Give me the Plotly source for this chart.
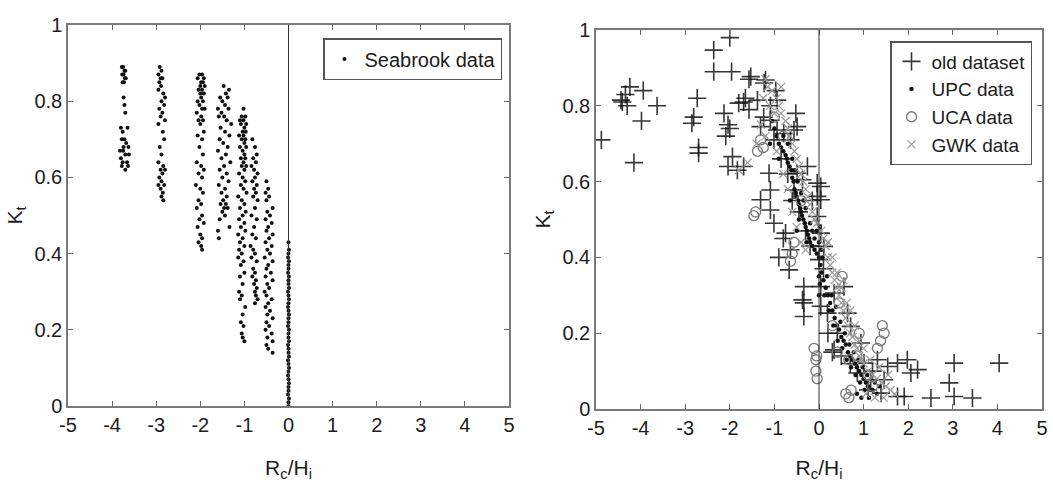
import plotly.graph_objects as go

# ---------------- data ----------------
x_ticks = [-5, -4, -3, -2, -1, 0, 1, 2, 3, 4, 5]
x_tick_labels = ["-5", "-4", "-3", "-2", "-1", "0", "1", "2", "3", "4", "5"]
y_ticks = [0, 0.2, 0.4, 0.6, 0.8, 1]
y_tick_labels = ["0", "0.2", "0.4", "0.6", "0.8", "1"]

# Left panel: Seabrook data, grouped by the column of points
seabrook_col_a = [(-3.78,0.89),(-3.75,0.89),(-3.72,0.88),(-3.70,0.88),(-3.77,0.87),(-3.74,0.87),
    (-3.71,0.86),(-3.69,0.86),(-3.76,0.85),(-3.73,0.85),(-3.74,0.81),(-3.72,0.79),(-3.70,0.77),
    (-3.80,0.73),(-3.76,0.72),(-3.65,0.73),(-3.78,0.70),(-3.72,0.70),(-3.68,0.69),(-3.63,0.68),
    (-3.82,0.67),(-3.75,0.67),(-3.70,0.66),(-3.62,0.66),(-3.80,0.65),(-3.76,0.64),(-3.66,0.64),
    (-3.78,0.63),(-3.70,0.62),(-3.64,0.63),(-3.74,0.68)]
seabrook_col_b = [(-2.92,0.89),(-2.88,0.88),(-2.95,0.87),(-2.90,0.86),(-2.86,0.86),(-2.93,0.85),
    (-2.89,0.84),(-2.95,0.83),(-2.84,0.82),(-2.80,0.81),(-2.88,0.80),(-2.82,0.79),(-2.93,0.78),
    (-2.86,0.77),(-2.90,0.76),(-2.80,0.75),(-2.95,0.74),(-2.85,0.72),(-2.82,0.70),(-2.92,0.68),
    (-2.88,0.66),(-2.95,0.64),(-2.84,0.63),(-2.90,0.62),(-2.86,0.61),(-2.80,0.62),(-2.93,0.60),
    (-2.88,0.59),(-2.82,0.58),(-2.95,0.58),(-2.90,0.57),(-2.85,0.56),(-2.88,0.55),(-2.84,0.54)]
seabrook_col_c = [(-2.02,0.87),(-1.96,0.87),(-1.92,0.86),(-2.06,0.86),(-1.98,0.85),(-1.94,0.85),
    (-2.00,0.84),(-1.90,0.84),(-2.04,0.83),(-1.96,0.83),(-1.92,0.82),(-2.00,0.82),(-1.98,0.81),
    (-2.06,0.80),(-1.94,0.80),(-2.02,0.79),(-1.96,0.78),(-1.90,0.78),(-2.08,0.77),(-1.98,0.76),
    (-2.04,0.75),(-1.94,0.75),(-2.00,0.74),(-1.92,0.72),(-2.06,0.71),(-1.96,0.70),(-2.02,0.68),
    (-1.94,0.66),(-2.08,0.64),(-1.98,0.63),(-1.92,0.62),(-2.04,0.61),(-1.96,0.60),(-2.10,0.58),
    (-2.00,0.57),(-1.94,0.56),(-2.04,0.54),(-1.98,0.53),(-2.08,0.52),(-1.96,0.50),(-2.02,0.49),
    (-1.92,0.48),(-2.06,0.47),(-2.00,0.45),(-1.96,0.44),(-2.04,0.43),(-1.98,0.42),(-1.96,0.41)]
seabrook_col_d = [(-1.47,0.84),(-1.35,0.83),(-1.42,0.82),(-1.55,0.81),(-1.38,0.81),(-1.50,0.80),
    (-1.44,0.79),(-1.60,0.78),(-1.36,0.78),(-1.52,0.77),(-1.46,0.76),(-1.58,0.76),(-1.40,0.75),
    (-1.30,0.74),(-1.54,0.73),(-1.44,0.72),(-1.34,0.71),(-1.56,0.70),(-1.48,0.69),(-1.38,0.68),
    (-1.60,0.67),(-1.42,0.66),(-1.52,0.65),(-1.32,0.64),(-1.46,0.63),(-1.56,0.62),(-1.40,0.61),
    (-1.50,0.60),(-1.36,0.59),(-1.58,0.58),(-1.44,0.57),(-1.52,0.56),(-1.40,0.55),(-1.48,0.54),
    (-1.42,0.53),(-1.54,0.53),(-1.46,0.52),(-1.38,0.52),(-1.50,0.51),(-1.44,0.50),(-1.56,0.49),
    (-1.60,0.46),(-1.58,0.44),(-1.34,0.47)]
seabrook_col_e = [(-1.02,0.78),(-1.06,0.76),(-0.98,0.76),(-1.10,0.75),(-1.02,0.75),(-0.96,0.74),
    (-1.08,0.74),(-1.00,0.73),(-1.04,0.72),(-0.97,0.72),(-1.12,0.71),(-1.02,0.71),(-0.98,0.70),
    (-1.06,0.70),(-1.00,0.69),(-1.10,0.68),(-0.96,0.68),(-1.04,0.67),(-1.00,0.66),(-1.08,0.65),
    (-0.98,0.65),(-1.02,0.64),(-1.06,0.63),(-0.96,0.63),(-1.00,0.62),(-1.12,0.61),(-1.04,0.60),
    (-0.98,0.59),(-1.08,0.58),(-1.02,0.57),(-0.95,0.56),(-1.14,0.55),(-1.06,0.54),(-1.00,0.53),
    (-1.10,0.52),(-0.97,0.51),(-1.04,0.50),(-1.12,0.49),(-1.00,0.48),(-1.08,0.47),(-0.98,0.46),
    (-1.14,0.45),(-1.04,0.44),(-1.10,0.43),(-1.00,0.42),(-1.12,0.41),(-1.06,0.40),(-1.14,0.39),
    (-1.02,0.38),(-1.08,0.37),(-1.00,0.35),(-1.10,0.34),(-1.04,0.32),(-1.12,0.30),(-1.06,0.29),
    (-1.10,0.28),(-0.98,0.26),(-1.04,0.24),(-1.08,0.22),(-1.02,0.21),(-1.06,0.19),(-1.04,0.18),
    (-1.00,0.17)]
seabrook_col_f = [(-0.82,0.70),(-0.76,0.68),(-0.72,0.66),(-0.80,0.65),(-0.74,0.64),(-0.84,0.63),
    (-0.78,0.62),(-0.70,0.61),(-0.76,0.60),(-0.82,0.59),(-0.72,0.58),(-0.78,0.57),(-0.74,0.56),
    (-0.80,0.55),(-0.70,0.54),(-0.76,0.52),(-0.84,0.50),(-0.72,0.49),(-0.78,0.47),(-0.82,0.45),
    (-0.74,0.44),(-0.86,0.42),(-0.80,0.41),(-0.76,0.40),(-0.84,0.39),(-0.72,0.38),(-0.80,0.36),
    (-0.76,0.35),(-0.82,0.34),(-0.74,0.33),(-0.78,0.32),(-0.72,0.31),(-0.76,0.30),(-0.74,0.29),
    (-0.70,0.28),(-0.76,0.27)]
seabrook_col_g = [(-0.50,0.59),(-0.46,0.57),(-0.52,0.56),(-0.44,0.55),(-0.50,0.54),(-0.36,0.52),
    (-0.48,0.51),(-0.42,0.50),(-0.52,0.49),(-0.38,0.48),(-0.46,0.47),(-0.50,0.46),(-0.36,0.45),
    (-0.44,0.44),(-0.52,0.43),(-0.38,0.42),(-0.48,0.41),(-0.42,0.40),(-0.54,0.39),(-0.36,0.38),
    (-0.46,0.37),(-0.50,0.36),(-0.40,0.35),(-0.52,0.34),(-0.36,0.33),(-0.48,0.32),(-0.44,0.31),
    (-0.54,0.30),(-0.50,0.29),(-0.38,0.28),(-0.46,0.27),(-0.52,0.26),(-0.42,0.25),(-0.48,0.24),
    (-0.36,0.23),(-0.50,0.22),(-0.44,0.21),(-0.52,0.20),(-0.38,0.19),(-0.48,0.18),(-0.36,0.17),
    (-0.50,0.16),(-0.46,0.15),(-0.36,0.14)]
seabrook_col_h = [(0.00,0.43),(0.01,0.41),(0.00,0.40),(-0.01,0.39),(0.01,0.38),(0.00,0.37),
    (0.00,0.36),(-0.01,0.35),(0.01,0.34),(0.00,0.33),(0.00,0.32),(0.01,0.31),(-0.01,0.30),
    (0.00,0.29),(0.01,0.28),(0.00,0.27),(-0.01,0.26),(0.00,0.25),(0.01,0.24),(0.00,0.23),
    (0.00,0.22),(-0.01,0.21),(0.01,0.20),(0.00,0.19),(0.00,0.18),(0.01,0.17),(-0.01,0.16),
    (0.00,0.15),(0.00,0.14),(0.01,0.13),(-0.01,0.12),(0.00,0.11),(0.01,0.10),(0.00,0.09),
    (-0.01,0.08),(0.00,0.07),(0.01,0.06),(0.00,0.05),(0.00,0.04),(-0.01,0.03),(0.01,0.02),
    (0.00,0.01),(0.00,0.00)]

# Right panel
old_dataset = [(-4.88,0.71),(-4.44,0.815),(-4.34,0.83),(-4.24,0.85),(-4.30,0.80),(-3.94,0.84),
    (-3.63,0.80),(-3.98,0.76),(-4.15,0.65),(-4.41,0.81),(-2.36,0.947),(-2.00,0.98),(-2.36,0.89),
    (-1.96,0.89),(-2.73,0.82),(-2.81,0.77),(-2.85,0.754),(-2.70,0.69),(-2.70,0.675),(-2.13,0.78),
    (-2.04,0.75),(-2.09,0.72),(-2.00,0.74),(-1.94,0.666),(-2.04,0.64),(-1.69,0.64),(-1.83,0.63),
    (-1.57,0.87),(-1.53,0.877),(-1.65,0.82),(-1.80,0.807),(-1.69,0.81),(-1.57,0.79),(-1.38,0.815),
    (-1.23,0.86),(-1.20,0.868),(-0.97,0.84),(-0.94,0.815),(-1.09,0.80),(-1.24,0.77),(-1.31,0.745),
    (-1.09,0.762),(-0.94,0.736),(-0.52,0.78),(-0.49,0.745),(-0.56,0.736),(-0.64,0.71),(-0.79,0.727),
    (-1.01,0.71),(-1.12,0.622),(-1.09,0.578),(-1.31,0.552),(-1.09,0.525),(-1.01,0.49),(-0.75,0.464),
    (-0.64,0.42),(-0.67,0.367),(-0.34,0.323),(-0.37,0.288),(-0.34,0.28),(-0.34,0.244),(-0.56,0.578),
    (-0.49,0.622),(-0.37,0.605),(-0.26,0.64),(-0.04,0.596),(0.04,0.587),(-0.04,0.561),(0.04,0.552),
    (-0.04,0.508),(0.04,0.464),(0.11,0.429),(0.00,0.394),(0.04,0.323),(0.04,0.271),(0.19,0.253),
    (0.34,0.306),(0.56,0.323),(0.64,0.253),(0.34,0.156),(0.41,0.20),(0.71,0.218),(0.94,0.174),
    (1.01,0.121),(1.31,0.13),(1.54,0.112),(1.76,0.121),(1.98,0.13),(2.21,0.104),(2.06,0.095),
    (1.91,0.033),(3.03,0.121),(4.04,0.121),(2.51,0.029),(3.03,0.033),(3.44,0.029),(2.92,0.069),
    (1.39,0.042),(1.76,0.033),(1.16,0.077),(0.86,0.095),(1.46,0.077),(-0.85,0.66),(-0.70,0.62),
    (-0.60,0.55),(-0.45,0.52),(-0.30,0.47),(-0.20,0.43),(0.20,0.20),(0.30,0.15),(0.50,0.14),
    (0.70,0.12),(1.20,0.10),(1.10,0.05),(-0.80,0.45),(-0.90,0.40),(-0.15,0.55),(0.10,0.37)]
upc_data = [(-1.05,0.76),(-1.00,0.74),(-0.95,0.72),(-0.90,0.70),(-0.85,0.69),(-0.80,0.68),
    (-0.75,0.67),(-0.72,0.66),(-0.70,0.65),(-0.66,0.64),(-0.62,0.63),(-0.60,0.61),(-0.57,0.60),
    (-0.55,0.58),(-0.52,0.57),(-0.50,0.56),(-0.47,0.55),(-0.45,0.54),(-0.42,0.53),(-0.40,0.52),
    (-0.38,0.51),(-0.35,0.50),(-0.32,0.49),(-0.30,0.48),(-0.27,0.47),(-0.25,0.46),(-0.22,0.45),
    (-0.20,0.44),(-0.15,0.43),(-0.10,0.42),(-0.05,0.41),(0.00,0.40),(0.03,0.38),(0.05,0.36),
    (0.10,0.34),(0.15,0.32),(0.20,0.30),(0.25,0.28),(0.30,0.26),(0.35,0.24),(0.40,0.22),
    (0.45,0.21),(0.50,0.19),(0.55,0.18),(0.60,0.17),(0.65,0.15),(0.70,0.14),(0.75,0.13),
    (0.80,0.12),(0.85,0.11),(0.90,0.10),(0.95,0.09),(1.00,0.08),(1.05,0.07),(1.10,0.06),
    (1.15,0.05),(1.20,0.05),(1.30,0.04),(-0.90,0.66),(-0.80,0.72),(-0.70,0.70),(-0.60,0.66),
    (-0.55,0.63),(-0.48,0.60),(-0.45,0.50),(-0.40,0.57),(-0.35,0.55),(-0.30,0.53),(-0.28,0.44),
    (-0.20,0.49),(-0.15,0.47),(-0.10,0.45),(-0.05,0.47),(0.00,0.44),(0.02,0.33),(0.05,0.42),
    (0.08,0.40),(0.12,0.30),(0.18,0.35),(0.22,0.26),(0.28,0.30),(0.32,0.22),(0.38,0.27),
    (0.42,0.18),(0.48,0.23),(0.52,0.16),(0.58,0.20),(0.62,0.13),(0.68,0.17),(0.72,0.11),
    (0.78,0.15),(0.82,0.09),(0.88,0.13),(0.92,0.07),(0.98,0.11),(1.02,0.05),(1.08,0.09),
    (1.12,0.03),(1.25,0.07),(1.35,0.06),(0.85,0.04),(0.95,0.03),(-1.10,0.70),(-0.65,0.55),
    (-0.50,0.47),(0.00,0.30),(0.00,0.35),(0.02,0.48)]
uca_data = [(-1.46,0.51),(-1.42,0.52),(-1.38,0.68),(-1.31,0.71),(-1.25,0.69),(-0.56,0.44),
    (-0.64,0.39),(-0.60,0.41),(-0.11,0.16),(-0.07,0.13),(-0.07,0.10),(-0.04,0.08),(-0.05,0.14),
    (0.60,0.04),(0.67,0.03),(0.72,0.05),(0.90,0.20),(1.42,0.22),(1.46,0.20),(1.31,0.16),
    (1.38,0.18),(0.41,0.15),(0.67,0.13),(0.52,0.35),(0.45,0.28),(0.85,0.14),(1.10,0.09),
    (1.20,0.06),(0.30,0.22),(-0.40,0.55),(-1.00,0.77),(-0.80,0.72)]
gwk_data = [(-1.20,0.87),(-1.15,0.85),(-1.05,0.84),(-0.95,0.82),(-0.90,0.80),(-0.85,0.78),
    (-1.10,0.80),(-1.25,0.82),(-0.75,0.76),(-0.70,0.74),(-0.65,0.72),(-0.60,0.70),(-0.55,0.68),
    (-0.50,0.66),(-0.45,0.64),(-0.40,0.62),(-0.35,0.60),(-0.30,0.58),(-0.25,0.56),(-0.20,0.54),
    (-0.15,0.52),(-0.10,0.50),(-0.05,0.49),(0.05,0.47),(0.10,0.45),(0.15,0.43),(0.20,0.40),
    (0.25,0.38),(0.30,0.36),(0.35,0.34),(0.40,0.32),(0.45,0.30),(0.50,0.28),(0.55,0.26),
    (0.60,0.24),(0.65,0.22),(0.70,0.20),(0.75,0.19),(0.80,0.17),(0.85,0.16),(0.90,0.14),
    (0.95,0.13),(1.00,0.12),(1.10,0.10),(1.20,0.09),(1.30,0.08),(1.40,0.07),(1.50,0.06),
    (1.60,0.05),(1.70,0.04),(1.45,0.03),(1.25,0.03),(1.05,0.04),(-1.30,0.75),(-1.20,0.72),
    (-1.40,0.70),(-0.95,0.68),(-0.80,0.62),(-0.70,0.58),(-0.60,0.52),(-0.50,0.48),(-0.40,0.44),
    (-0.30,0.42),(0.20,0.44),(0.30,0.40),(0.40,0.36),(0.50,0.32),(0.55,0.34),(0.62,0.28),
    (0.70,0.26),(0.80,0.22),(0.90,0.18),(1.00,0.16),(1.15,0.13),(1.35,0.11),(1.55,0.09),
    (-1.60,0.65),(-1.80,0.63),(-0.85,0.85),(-1.00,0.78)]

# ---------------- figure ----------------
def xs(pts):
    return [p[0] for p in pts]

def ys(pts):
    return [p[1] for p in pts]

seabrook = (seabrook_col_a + seabrook_col_b + seabrook_col_c + seabrook_col_d +
            seabrook_col_e + seabrook_col_f + seabrook_col_g + seabrook_col_h)

FONT = "Liberation Sans, Arial, sans-serif"
TXT = "#1c1c1c"

fig = go.Figure()
fig.add_trace(go.Scatter(x=xs(seabrook), y=ys(seabrook), mode="markers", name="Seabrook data",
    marker=dict(symbol="circle", size=4, color="#111"), xaxis="x", yaxis="y",
    legend="legend", showlegend=True))

fig.add_trace(go.Scatter(x=xs(old_dataset), y=ys(old_dataset), mode="markers", name="old dataset",
    marker=dict(symbol="cross-thin-open", size=13, color="rgba(20,20,20,0.85)",
                line=dict(width=1.6, color="rgba(20,20,20,0.85)")),
    xaxis="x2", yaxis="y2", legend="legend2", showlegend=True))
fig.add_trace(go.Scatter(x=xs(upc_data), y=ys(upc_data), mode="markers", name="UPC data",
    marker=dict(symbol="circle", size=4.5, color="#111"), xaxis="x2", yaxis="y2",
    legend="legend2", showlegend=True))
fig.add_trace(go.Scatter(x=xs(uca_data), y=ys(uca_data), mode="markers", name="UCA data",
    marker=dict(symbol="circle-open", size=10, color="#777", line=dict(width=1.3, color="#777")),
    xaxis="x2", yaxis="y2", legend="legend2", showlegend=True))
fig.add_trace(go.Scatter(x=xs(gwk_data), y=ys(gwk_data), mode="markers", name="GWK data",
    marker=dict(symbol="x-thin-open", size=8, color="#999", line=dict(width=1.2, color="#999")),
    xaxis="x2", yaxis="y2", legend="legend2", showlegend=True))

axis_common = dict(showline=True, linecolor="#7a7a7a", linewidth=1.5, mirror="ticks",
                   ticks="inside", ticklen=5, tickcolor="#666", tickwidth=1,
                   showgrid=False, zeroline=False, automargin=False,
                   tickfont=dict(family=FONT, size=20, color=TXT))

xtitle = dict(text="R<sub>c</sub>/H<sub>i</sub>", font=dict(family=FONT, size=21, color=TXT), standoff=31)
ytitle = dict(text="K<sub>t</sub>", font=dict(family=FONT, size=21, color=TXT), standoff=6)

fig.update_layout(
    width=1053, height=482,
    margin=dict(l=0, r=0, t=0, b=0, autoexpand=False),
    paper_bgcolor="white", plot_bgcolor="white",
    showlegend=True,
    xaxis=dict(domain=[68/1053, 509/1053], range=[-5, 5], tickvals=x_ticks, ticktext=x_tick_labels,
               anchor="y", title=xtitle, **axis_common),
    yaxis=dict(domain=[(482-406)/482, (482-25)/482], range=[0, 1], tickvals=y_ticks,
               ticktext=y_tick_labels, anchor="x", title=ytitle, **axis_common),
    xaxis2=dict(domain=[596/1053, 1042/1053], range=[-5, 5], tickvals=x_ticks, ticktext=x_tick_labels,
                anchor="y2", title=xtitle, **axis_common),
    yaxis2=dict(domain=[(482-409)/482, (482-30)/482], range=[0, 1], tickvals=y_ticks,
                ticktext=y_tick_labels, anchor="x2", title=ytitle, **axis_common),
    legend=dict(x=502/1053, y=1-38/482, xanchor="right", yanchor="top", visible=True,
                bgcolor="white", bordercolor="#555", borderwidth=1.5,
                font=dict(family=FONT, size=20, color=TXT), itemsizing="trace"),
    legend2=dict(x=1032/1053, y=1-41/482, xanchor="right", yanchor="top", visible=True,
                 bgcolor="white", bordercolor="#555", borderwidth=1.5, tracegroupgap=0,
                 font=dict(family=FONT, size=19, color=TXT), itemsizing="trace"),
    shapes=[
        dict(type="line", xref="x", yref="y domain", x0=0, x1=0, y0=0, y1=1,
             line=dict(color="#333", width=1)),
        dict(type="line", xref="x2", yref="y2 domain", x0=0, x1=0, y0=0, y1=1,
             line=dict(color="#333", width=1)),
    ],
)

fig.write_html("out.html", config={"displayModeBar": False},
               post_script="document.body.style.margin='0';document.body.style.overflow='hidden';")
